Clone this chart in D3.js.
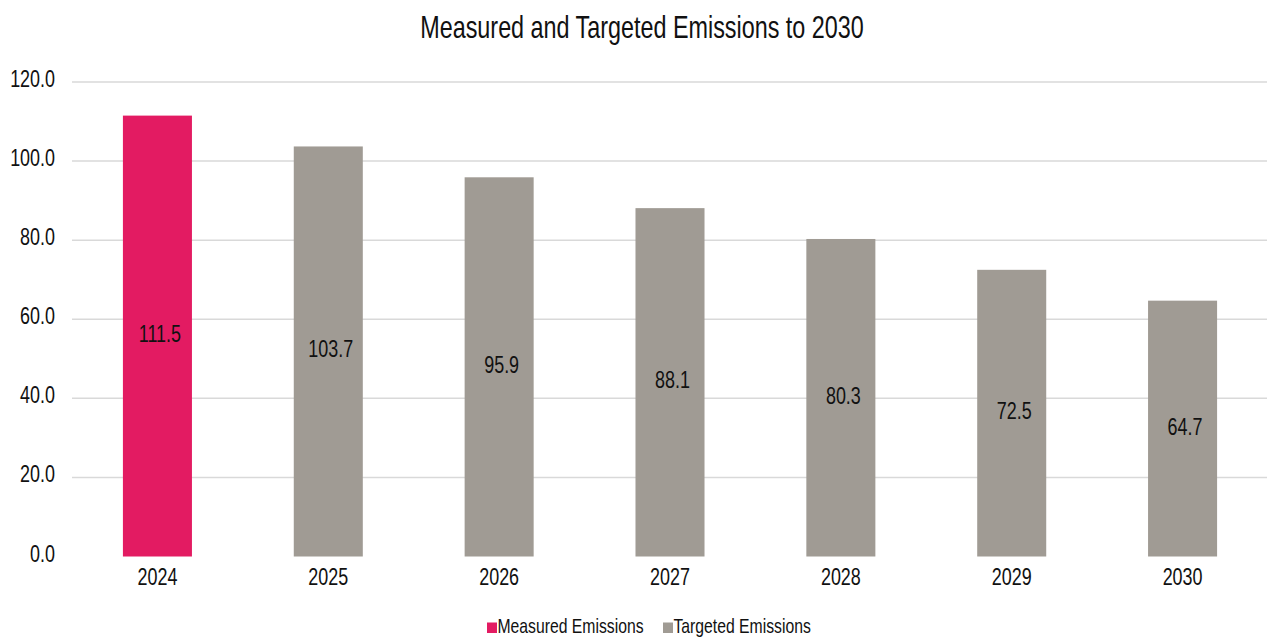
<!DOCTYPE html>
<html>
<head>
<meta charset="utf-8">
<script src="https://cdn.jsdelivr.net/npm/d3@7"></script>
<style>
	body { margin: 0; background: #fff; }
	text { font-family: "Liberation Sans", Arial, sans-serif; fill: #111; }
</style>
</head>
<body>
<div id="chart"></div>
<script>
'use strict';

var years = ["2024", "2025", "2026", "2027", "2028", "2029", "2030"];
var emissions = [111.5, 103.7, 95.9, 88.1, 80.3, 72.5, 64.7];
var series = ["Measured", "Targeted", "Targeted", "Targeted", "Targeted", "Targeted", "Targeted"];
var yTicks = [0, 20, 40, 60, 80, 100, 120];
var legendNames = ["Measured Emissions", "Targeted Emissions"];
var colors = { Measured: "#E31B62", Targeted: "#A09B94" };

var W = 1267, H = 637;
var plotLeft = 72, plotRight = 1268, plotTop = 82, plotBottom = 556.5;
var narrow = 0.78; // squeeze text to look like a narrow face

var svg = d3.select("#chart")
	.append("svg")
	.attr("width", W)
	.attr("height", H);

var x = d3.scaleBand()
	.domain(years)
	.range([plotLeft, plotRight])
	.paddingInner(0.596)
	.paddingOuter(0.298);

var y = d3.scaleLinear()
	.domain([0, 120])
	.range([plotBottom, plotTop]);

function place(px, py, sx) {
	return "translate(" + px + "," + py + ") scale(" + sx + ",1)";
}

// gridlines
svg.append("g")
	.selectAll("line")
	.data(yTicks.slice(1))
	.enter()
	.append("line")
	.attr("x1", plotLeft)
	.attr("x2", W)
	.attr("y1", function(d) { return y(d); })
	.attr("y2", function(d) { return y(d); })
	.attr("stroke", "#D9D9D9")
	.attr("stroke-width", 1.5);

// y axis labels
var yAxis = d3.axisLeft(y).tickValues(yTicks).tickFormat(d3.format(".1f")).tickSize(0).tickPadding(0);
svg.append("g")
	.attr("transform", "translate(55,0)")
	.call(yAxis)
	.call(function(g) { g.select(".domain").remove(); })
	.selectAll("text")
	.attr("font-size", 23)
	.attr("font-family", null)
	.attr("fill", "#111")
	.attr("x", null)
	.attr("dy", null)
	.attr("transform", place(0, 4.5, narrow));

// x axis labels
var xAxis = d3.axisBottom(x).tickSize(0).tickPadding(0);
svg.append("g")
	.attr("transform", "translate(0," + plotBottom + ")")
	.call(xAxis)
	.call(function(g) { g.select(".domain").remove(); })
	.selectAll("text")
	.attr("font-size", 23)
	.attr("font-family", null)
	.attr("fill", "#111")
	.attr("y", null)
	.attr("dy", null)
	.attr("transform", place(0, 28.5, narrow));

// bars
var data = years.map(function(yr, i) { return { year: yr, v: emissions[i], s: series[i] }; });

svg.append("g")
	.selectAll("rect")
	.data(data)
	.enter()
	.append("rect")
	.attr("x", function(d) { return x(d.year); })
	.attr("y", function(d) { return y(d.v); })
	.attr("width", x.bandwidth())
	.attr("height", function(d) { return y(0) - y(d.v); })
	.attr("fill", function(d) { return colors[d.s]; });

// value labels
svg.append("g")
	.selectAll("text")
	.data(data)
	.enter()
	.append("text")
	.attr("transform", function(d) {
		return place(x(d.year) + x.bandwidth() / 2 + 2.5, (y(d.v) + y(0)) / 2 + 6, narrow);
	})
	.attr("text-anchor", "middle")
	.attr("font-size", 23)
	.text(function(d) { return d.v.toFixed(1); });

// title
svg.append("text")
	.attr("transform", place(642, 38, 0.73))
	.attr("text-anchor", "middle")
	.attr("font-size", 32)
	.text("Measured and Targeted Emissions to 2030");

// legend
var legendX = [487, 663];
var lg = svg.append("g")
	.selectAll("g")
	.data(legendNames)
	.enter()
	.append("g")
	.attr("transform", function(d, i) { return "translate(" + legendX[i] + ",633)"; });

lg.append("rect")
	.attr("x", 0)
	.attr("y", -10.5)
	.attr("width", 10)
	.attr("height", 10.5)
	.attr("fill", function(d, i) { return colors[i == 0 ? "Measured" : "Targeted"]; });

lg.append("text")
	.attr("transform", place(10.5, 0, 0.75))
	.attr("font-size", 21)
	.text(function(d) { return d; });
</script>
</body>
</html>
